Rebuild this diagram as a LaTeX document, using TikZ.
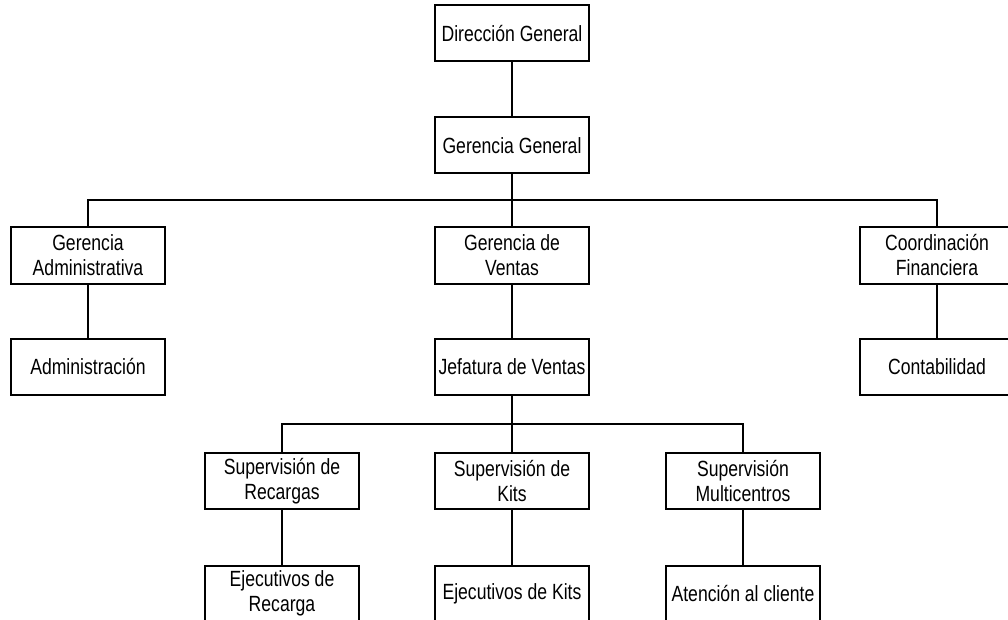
\documentclass[tikz,border=0pt]{standalone}
\usepackage{fontspec}
\setmainfont[FakeStretch=0.8]{Liberation Sans}
\begin{document}
\begin{tikzpicture}[x=1pt,y=-1pt,
  unit/.style={draw=black, line width=2pt, fill=white, minimum width=154pt,
    minimum height=56pt, inner sep=0pt, align=center,
    font=\fontsize{22}{25}\selectfont},
  link/.style={draw=black, line width=2pt}]
\useasboundingbox (0,0) rectangle (1008,620);
\clip (0,0) rectangle (1008,620);
\fill[white] (0,0) rectangle (1008,620);

% top levels
\node[unit] (dg) at (512,33.5) {Dirección General};
\node[unit] (gg) at (512,145.5) {Gerencia General};

% second level
\node[unit] (ga) at (88,255.5) {Gerencia\\Administrativa};
\node[unit] (gv) at (512,255.5) {Gerencia de\\Ventas};
\node[unit] (cf) at (937,255.5) {Coordinación\\Financiera};

% third level
\node[unit] (adm) at (88,366.5) {Administración};
\node[unit] (jv) at (512,366.5) {Jefatura de Ventas};
\node[unit] (cont) at (937,366.5) {Contabilidad};

% supervisions
\node[unit] (sr) at (282,481) {Supervisión de\\Recargas};
\node[unit] (sk) at (512,481) {Supervisión de\\Kits};
\node[unit] (sm) at (743,481) {Supervisión\\Multicentros};

% bottom row
\node[unit] (er) at (282,593.5) {Ejecutivos de\\Recarga};
\node[unit] (ek) at (512,593.5) {Ejecutivos de Kits};
\node[unit] (ac) at (743,593.5) {Atención al cliente};

% bus junctions
\coordinate (b1) at (512,200.5);
\coordinate (b2) at (512,424);

% connectors
\draw[link] (dg.south) -- (gg.north);
\draw[link] (gg.south) -- (gv.north);
\draw[link] (ga.north) |- (b1) -| (cf.north);
\draw[link] (ga.south) -- (adm.north);
\draw[link] (gv.south) -- (jv.north);
\draw[link] (cf.south) -- (cont.north);
\draw[link] (jv.south) -- (sk.north);
\draw[link] (sr.north) |- (b2) -| (sm.north);
\draw[link] (sr.south) -- (er.north);
\draw[link] (sk.south) -- (ek.north);
\draw[link] (sm.south) -- (ac.north);
\end{tikzpicture}
\end{document}
